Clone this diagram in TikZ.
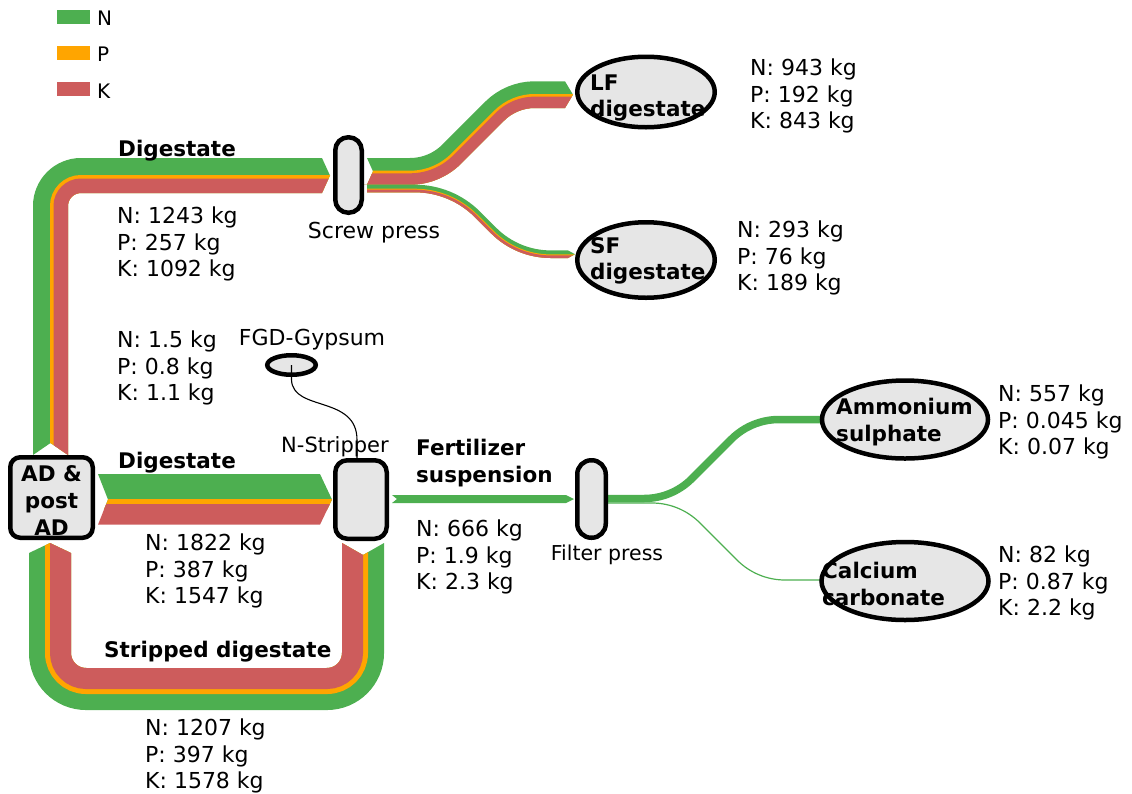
\documentclass[tikz,border=0pt]{standalone}
\usepackage{fontspec}
\setmainfont{DejaVu Sans}
\usetikzlibrary{shapes.geometric}
\definecolor{cN}{RGB}{77,175,80}
\definecolor{cP}{RGB}{255,165,0}
\definecolor{cK}{RGB}{205,92,92}
\definecolor{nodegray}{RGB}{230,230,230}
\begin{document}
\begin{tikzpicture}[x=1pt,y=-1pt,
  unit/.style={draw=black, line width=4.5pt, fill=nodegray, inner sep=0pt},
  procbox/.style={unit, rectangle, rounded corners=#1},
  prodell/.style={unit, ellipse},
  val/.style={inner sep=0pt, anchor=west, align=left, font=\fontsize{22}{26.5}\selectfont},
  head/.style={inner sep=0pt, anchor=west, align=left, font=\fontsize{21.5}{26.5}\selectfont\bfseries},
  tag/.style={inner sep=0pt, font=\fontsize{#1}{24}\selectfont},
  legendtext/.style={inner sep=0pt, anchor=west, font=\fontsize{20}{22}\selectfont},
  thinlink/.style={draw=black, line width=1.1pt}
]
\useasboundingbox (0,0) rectangle (1132,793);

% ---------- legend ----------
\fill[cN] (57,10) rectangle (90,24);
\fill[cP] (57,46) rectangle (90,60);
\fill[cK] (57,82) rectangle (90,96);
\node[legendtext] (legN) at (97,18) {N};
\node[legendtext] (legP) at (97,54) {P};
\node[legendtext] (legK) at (97,91) {K};

% ---------- digestate: AD -> screw press (upper loop) ----------
\begin{scope}
  \clip (0,455) -- (33,455) -- (50.5,443) -- (68,455) -- (300,455) -- (300,193)
        -- (322,193) -- (330,175.5) -- (322,158) -- (322,0) -- (0,0) -- cycle;
  \draw[cN, line width=35pt, rounded corners=30.5pt] (50.5,470) -- (50.5,175.5) -- (340,175.5);
  \draw[cP, line width=18pt, rounded corners=22pt] (59,470) -- (59,184) -- (340,184);
  \draw[cK, line width=14.5pt, rounded corners=20.25pt] (60.75,470) -- (60.75,185.75) -- (340,185.75);
\end{scope}

% ---------- LF digestate branch (layers stacked above the lower edge) ----------
\begin{scope}
  \clip (360,184.7) -- (410,184.7) .. controls (429.2,184.7) and (447.63,177.07) .. (461.21,163.49)
        -- (503.97,120.73) .. controls (512.12,112.58) and (523.18,108) .. (534.7,108) -- (565,108)
        -- (573,94.65) -- (565,81.3) -- (565,0) -- (367,0) -- (367,158)
        -- (373,171.35) -- (367,184.7) -- cycle;
  \draw[cN, line width=53.4pt] (360,184.7) -- (410,184.7) .. controls (429.2,184.7) and (447.63,177.07) .. (461.21,163.49)
        -- (503.97,120.73) .. controls (512.12,112.58) and (523.18,108) .. (534.7,108) -- (590,108);
  \draw[cP, line width=28pt] (360,184.7) -- (410,184.7) .. controls (429.2,184.7) and (447.63,177.07) .. (461.21,163.49)
        -- (503.97,120.73) .. controls (512.12,112.58) and (523.18,108) .. (534.7,108) -- (590,108);
  \draw[cK, line width=22.8pt] (360,184.7) -- (410,184.7) .. controls (429.2,184.7) and (447.63,177.07) .. (461.21,163.49)
        -- (503.97,120.73) .. controls (512.12,112.58) and (523.18,108) .. (534.7,108) -- (590,108);
\end{scope}

% ---------- SF digestate branch ----------
\begin{scope}
  \clip (367,192.3) -- (415,192.3) .. controls (437.4,192.3) and (458.91,201.21) .. (474.75,217.05)
        -- (490.95,233.25) .. controls (506.79,249.09) and (528.3,258) .. (550.7,258) -- (568,258)
        -- (575,254.2) -- (568,250.4) -- (568,180) -- (367,180) -- cycle;
  \draw[cN, line width=15.2pt] (360,192.3) -- (415,192.3) .. controls (437.4,192.3) and (458.91,201.21) .. (474.75,217.05)
        -- (490.95,233.25) .. controls (506.79,249.09) and (528.3,258) .. (550.7,258) -- (590,258);
  \draw[cP, line width=7.2pt] (360,192.3) -- (415,192.3) .. controls (437.4,192.3) and (458.91,201.21) .. (474.75,217.05)
        -- (490.95,233.25) .. controls (506.79,249.09) and (528.3,258) .. (550.7,258) -- (590,258);
  \draw[cK, line width=5.2pt] (360,192.3) -- (415,192.3) .. controls (437.4,192.3) and (458.91,201.21) .. (474.75,217.05)
        -- (490.95,233.25) .. controls (506.79,249.09) and (528.3,258) .. (550.7,258) -- (590,258);
\end{scope}

% ---------- digestate: AD -> N-stripper ----------
\begin{scope}
  \clip (98,474) -- (320,474) -- (332,499.5) -- (320,524.7) -- (98,524.7) -- (108,499.5) -- cycle;
  \fill[cN] (90,470) rectangle (340,510);
  \fill[cP] (90,498.6) rectangle (340,510);
  \fill[cK] (90,503.8) rectangle (340,530);
\end{scope}

% ---------- stripped digestate: N-stripper -> AD (lower loop) ----------
\begin{scope}
  \clip (0,553) -- (29,553) -- (50,543) -- (71,553) -- (250,553) -- (250,543) -- (342,543)
        -- (363,555) -- (384,543) -- (400,543) -- (400,800) -- (0,800) -- cycle;
  \draw[cN, line width=42pt, rounded corners=36pt] (50,530) -- (50,689) -- (363,689) -- (363,530);
  \draw[cP, line width=26pt, rounded corners=28pt] (58,530) -- (58,681) -- (355,681) -- (355,530);
  \draw[cK, line width=21pt, rounded corners=25.5pt] (60.5,530) -- (60.5,678.5) -- (352.5,678.5) -- (352.5,530);
\end{scope}

% ---------- fertilizer suspension ----------
\fill[cN] (392,495) -- (566,495) -- (574,499) -- (566,503) -- (392,503) -- (397,499) -- cycle;

% ---------- filter press outputs ----------
\draw[cN, line width=7.5pt] (608,498.5) -- (644,498.5) .. controls (661.9,498.5) and (679.13,491.37) .. (691.8,478.7)
      -- (731.2,439.3) .. controls (743.87,426.63) and (761.1,419.5) .. (779,419.5) -- (822,419.5);
\draw[cN, line width=1.2pt] (608,503) -- (652,503) .. controls (669.9,503) and (687.13,510.13) .. (699.8,522.8)
      -- (737.2,560.2) .. controls (749.87,572.87) and (767.1,580) .. (785,580) -- (822,580);

% ---------- process units ----------
\node[procbox=10pt, minimum width=82.5pt, minimum height=80.5pt] (ad) at (51.5,497.5) {};
\node[procbox=13pt, minimum width=26.5pt, minimum height=75.5pt] (screw) at (348.5,175) {};
\node[procbox=12pt, minimum width=51.5pt, minimum height=78.5pt] (nstrip) at (361,499.5) {};
\node[procbox=14pt, minimum width=28.5pt, minimum height=77.5pt] (filter) at (591.5,499) {};
\node[prodell, minimum width=48.5pt, minimum height=19.5pt] (fgd) at (291.5,365) {};

% ---------- products ----------
\node[prodell, minimum width=137.5pt, minimum height=70.5pt] (lf) at (646,92) {};
\node[prodell, minimum width=137.5pt, minimum height=75.5pt] (sf) at (646,260) {};
\node[prodell, minimum width=166pt, minimum height=78pt] (amsul) at (905,419.5) {};
\node[prodell, minimum width=167pt, minimum height=78pt] (caco) at (905,581) {};

% ---------- gypsum feed into the stripper ----------
\draw[thinlink] (fgd.center) -- (291.5,380) .. controls (293,412) and (357,395) .. (357,440)
      -- ([xshift=-4pt]nstrip.north);

% ---------- unit captions ----------
\node[head, anchor=center, align=center, font=\fontsize{21.5}{27}\selectfont\bfseries] (adtxt) at (51.5,500.5) {AD \&\\post\\AD};
\node[head] (lftxt) at (590,98) {LF\\digestate};
\node[head] (sftxt) at (590,261) {SF\\digestate};
\node[head] (amtxt) at (836,422) {Ammonium\\sulphate};
\node[head] (catxt) at (822,584) {Calcium\\carbonate};
\node[tag=22] (screwlbl) at (374,233) {Screw press};
\node[tag=22] (fgdlbl) at (312,340) {FGD-Gypsum};
\node[tag=21] (nstriplbl) at (335,447) {N-Stripper};
\node[tag=20.5] (filterlbl) at (607,555) {Filter press};

% ---------- flow names ----------
\node[head] (dig1) at (118,151) {Digestate};
\node[head] (dig2) at (118,463) {Digestate};
\node[head] (strip) at (104,652) {Stripped digestate};
\node[head] (fert) at (416,463) {Fertilizer\\suspension};

% ---------- nutrient loads ----------
\node[val] (v1) at (117,244) {N: 1243 kg\\P: 257 kg\\K: 1092 kg};
\node[val] (vfgd) at (117,368) {N: 1.5 kg\\P: 0.8 kg\\K: 1.1 kg};
\node[val] (v2) at (145,571) {N: 1822 kg\\P: 387 kg\\K: 1547 kg};
\node[val] (v3) at (145,756) {N: 1207 kg\\P: 397 kg\\K: 1578 kg};
\node[val] (v4) at (416,557) {N: 666 kg\\P: 1.9 kg\\K: 2.3 kg};
\node[val] (vlf) at (750,96) {N: 943 kg\\P: 192 kg\\K: 843 kg};
\node[val] (vsf) at (737,258) {N: 293 kg\\P: 76 kg\\K: 189 kg};
\node[val] (vam) at (998,422) {N: 557 kg\\P: 0.045 kg\\K: 0.07 kg};
\node[val] (vca) at (998,583) {N: 82 kg\\P: 0.87 kg\\K: 2.2 kg};
\end{tikzpicture}
\end{document}
